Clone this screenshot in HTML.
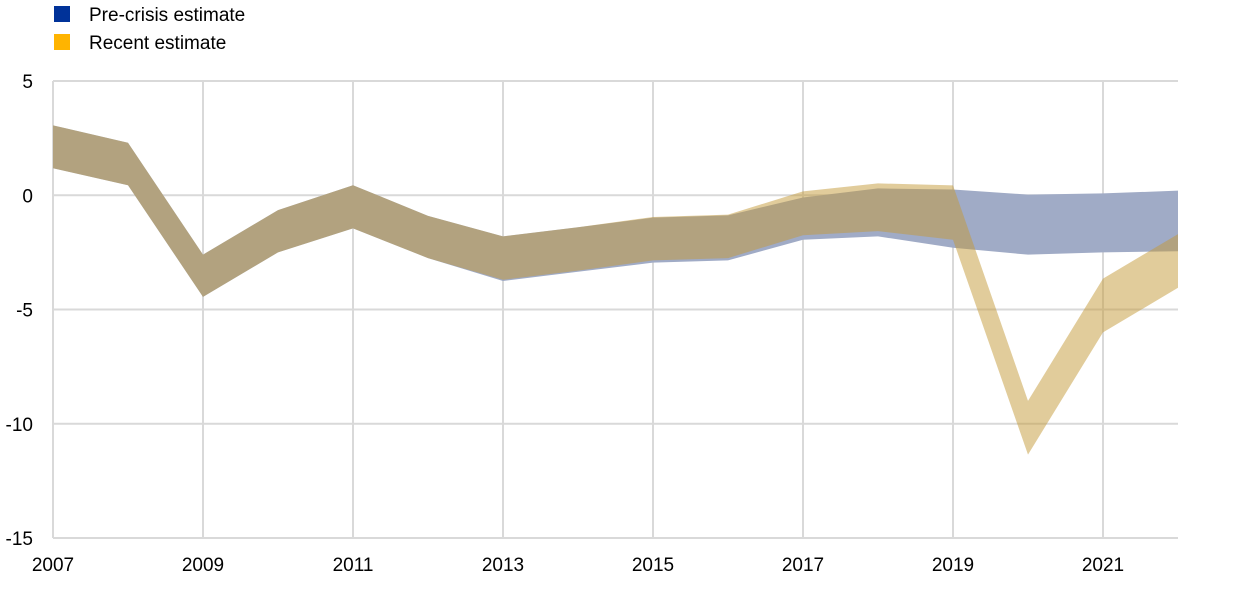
<!DOCTYPE html>
<html><head><meta charset="utf-8"><style>
body{margin:0;background:#fff;font-family:"Liberation Sans",sans-serif;}
svg text{font-family:"Liberation Sans",sans-serif;font-size:19px;fill:#000;}
</style></head><body>
<svg width="1240" height="587">
<g>
<rect x="54" y="6" width="16" height="16" fill="#003299"/>
<text x="89" y="21">Pre-crisis estimate</text>
<rect x="54" y="34" width="16" height="16" fill="#ffb400"/>
<text x="89" y="49">Recent estimate</text>
</g>
<g id="grid"></g>
<g id="bands"></g>
<g id="axes"></g>
</svg>
<script>
const years=[2007,2008,2009,2010,2011,2012,2013,2014,2015,2016,2017,2018,2019,2020,2021,2022];
const preUpper=[3.06,2.3,-2.6,-0.65,0.44,-0.9,-1.8,-1.4,-0.98,-0.88,-0.1,0.3,0.25,0.03,0.08,0.2];
const preLower=[1.18,0.44,-4.45,-2.5,-1.45,-2.75,-3.75,-3.35,-2.95,-2.85,-1.95,-1.8,-2.3,-2.6,-2.5,-2.45];
const recUpper=[3.06,2.3,-2.6,-0.65,0.44,-0.9,-1.8,-1.4,-0.95,-0.85,0.17,0.52,0.43,-9.0,-3.65,-1.7];
const recLower=[1.18,0.44,-4.45,-2.5,-1.45,-2.75,-3.7,-3.3,-2.85,-2.75,-1.75,-1.57,-1.95,-11.35,-6.0,-4.05];
const yTicks=[5,0,-5,-10,-15];
const xTicks=[2007,2009,2011,2013,2015,2017,2019,2021];
const NS='http://www.w3.org/2000/svg';
const L=53,R=1178,T=81,B=538;
const x=y=>L+(y-2007)*(R-L)/15;
const yv=v=>T+(5-v)*(B-T)/20;
const grid=document.getElementById('grid'),bands=document.getElementById('bands'),axes=document.getElementById('axes');
function mk(tag,attrs,parent){const e=document.createElementNS(NS,tag);for(const k in attrs)e.setAttribute(k,attrs[k]);parent.appendChild(e);return e;}
yTicks.forEach(t=>{
 const l=mk('line',{x1:L,x2:R,y1:yv(t),y2:yv(t),stroke:'#d9d9d9','stroke-width':2},grid);
 
 
 const tx=mk('text',{x:33,y:yv(t)+7,'text-anchor':'end'},axes);
 tx.textContent=t;
 
 
});
xTicks.forEach(t=>{
 const l=mk('line',{x1:x(t),x2:x(t),y1:T,y2:B,stroke:'#d9d9d9','stroke-width':2},grid);
 
 
 const tx=mk('text',{x:x(t),y:571,'text-anchor':'middle'},axes);
 tx.textContent=t;
 
 
});
function band(up,lo,fill,op,name){
 let pts=years.map((yr,i)=>x(yr)+','+yv(up[i]));
 for(let i=years.length-1;i>=0;i--)pts.push(x(years[i])+','+yv(lo[i]));
 const p=mk('polygon',{points:pts.join(' '),fill:fill,'fill-opacity':op},bands);
 
 
}
band(preUpper,preLower,'#a0abc6',1,'pre-crisis-band');
band(recUpper,recLower,'#c39937',0.5,'recent-band');
</script>
</body></html>
